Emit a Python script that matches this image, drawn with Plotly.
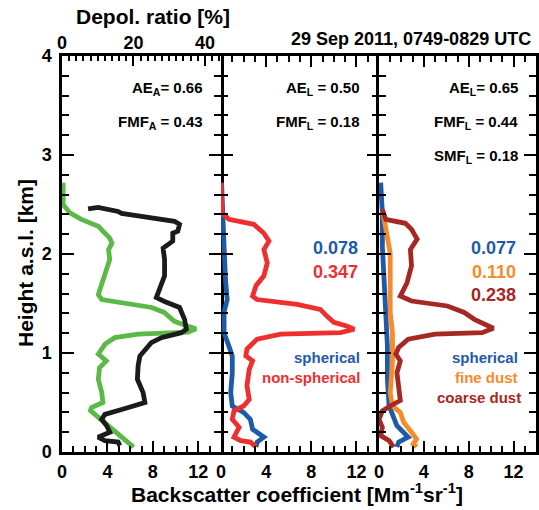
import plotly.graph_objects as go

# ---------------- data ----------------
# Panel 1: total backscatter (green) and particle depolarization ratio (black)
h_bsc_total = [2.72, 2.50, 2.415, 2.35, 2.28, 2.16, 2.11, 2.045, 1.945, 1.83, 1.71, 1.59, 1.54, 1.51,
               1.46, 1.41, 1.32, 1.27, 1.245, 1.21, 1.19, 1.155, 1.09, 0.99, 0.92, 0.85, 0.735, 0.60,
               0.50, 0.45, 0.42, 0.37, 0.265, 0.165, 0.05]
bsc_total = [0.1, 0.1, 0.7, 1.7, 3.2, 4.2, 4.4, 4.1, 4.2, 3.9, 3.5, 3.2, 3.5, 5.2,
             7.9, 9.0, 9.9, 11.1, 11.8, 11.1, 6.7, 4.65, 3.8, 3.2, 3.9, 3.3, 3.2, 3.5,
             3.6, 2.6, 2.5, 3.0, 4.1, 5.2, 6.3]

h_depol = [2.455, 2.47, 2.43, 2.41, 2.40, 2.33, 2.30, 2.23, 2.21, 2.13, 2.06, 1.945, 1.78, 1.64,
           1.56, 1.52, 1.46, 1.34, 1.24, 1.205, 1.155, 1.105, 1.02, 0.97, 0.87, 0.735, 0.60,
           0.50, 0.43, 0.38, 0.33, 0.265, 0.20, 0.15, 0.115, 0.10, 0.065]
depol = [7.3, 10.1, 15.7, 16.7, 18.5, 31.5, 32.9, 32.4, 31.0, 31.0, 28.3, 28.7, 28.7, 27.3,
         26.4, 28.7, 32.9, 34.3, 34.8, 33.4, 27.8, 25.0, 22.7, 21.8, 21.3, 21.1, 22.7,
         23.2, 16.7, 12.0, 11.1, 12.5, 13.4, 10.1, 12.0, 15.7, 16.2]

# Panel 2: spherical (blue) and non-spherical (red) backscatter
h_ns = [2.72, 2.415, 2.35, 2.30, 2.21, 2.13, 2.045, 1.91, 1.78, 1.68, 1.575, 1.54, 1.49, 1.44,
        1.37, 1.31, 1.27, 1.24, 1.205, 1.19, 1.14, 1.04, 0.97, 0.92, 0.835, 0.67, 0.53, 0.465,
        0.415, 0.33, 0.25, 0.15, 0.115, 0.10, 0.05]
bsc_ns = [0.0, 0.1, 0.7, 2.9, 3.8, 4.25, 3.8, 4.1, 3.8, 3.1, 2.8, 3.2, 6.75, 8.8,
          9.4, 10.0, 11.2, 11.8, 10.6, 5.3, 3.2, 2.3, 2.2, 2.8, 2.5, 2.3, 2.5, 2.0,
          1.15, 1.0, 1.6, 1.15, 1.75, 2.6, 3.1]

h_sph2 = [2.72, 2.45, 2.08, 1.74, 1.54, 1.41, 1.205, 1.07, 0.97, 0.80, 0.60, 0.465, 0.40, 0.33,
          0.23, 0.15, 0.10, 0.05]
bsc_sph2 = [0.05, 0.1, 0.27, 0.4, 0.55, 0.27, 0.27, 0.7, 1.0, 1.0, 0.86, 1.0, 2.0, 2.6,
            2.8, 3.8, 3.2, 3.1]

# Panel 3: spherical (blue), fine dust (orange), coarse dust (dark red)
h_cd = [2.45, 2.35, 2.31, 2.25, 2.15, 2.045, 1.88, 1.71, 1.575, 1.525, 1.475, 1.41, 1.34, 1.28,
        1.25, 1.205, 1.19, 1.14, 1.055, 0.99, 0.92, 0.80, 0.67, 0.52, 0.465, 0.415, 0.33, 0.25,
        0.165, 0.115, 0.05]
bsc_cd = [0.3, 0.6, 2.35, 2.9, 3.4, 2.8, 2.9, 2.5, 1.9, 2.9, 6.1, 7.6, 8.5, 9.6,
          10.2, 9.2, 5.0, 2.6, 1.75, 1.5, 1.9, 1.6, 1.75, 1.9, 1.0, 0.3, 0.0, 0.3,
          0.15, 0.9, 1.3]

h_sph3 = [2.72, 2.415, 2.08, 1.74, 1.41, 1.07, 0.735, 0.465, 0.365, 0.265, 0.15, 0.10, 0.05]
bsc_sph3 = [0.15, 0.3, 0.3, 0.4, 0.6, 0.75, 0.75, 0.9, 1.3, 1.6, 2.6, 1.75, 1.6]

h_fd = [2.45, 2.25, 2.01, 1.74, 1.41, 1.205, 0.905, 0.60, 0.465, 0.40, 0.30, 0.20, 0.13, 0.08, 0.05]
bsc_fd = [0.3, 0.6, 1.0, 1.0, 1.0, 1.2, 1.2, 1.0, 1.2, 1.9, 2.2, 2.9, 3.35, 3.05, 3.35]

# axis ticks / labels
height_ticks = [0, 1, 2, 3, 4]
bsc_ticks = [0, 4, 8, 12]
depol_ticks = [0, 20, 40]

# ---------------- style ----------------
W, H = 539, 510
FONT = "Liberation Sans"
GREEN, BLACK = "#5cb947", "#1b1b1b"
BLUE, RED = "#1f5aa8", "#ee2f2f"
ORANGE, DRED = "#f68b2c", "#a52822"

def px(x):
    return x / W

def py(y):
    return 1 - y / H

xdom = [(62, 221), (221, 379), (379, 536)]
ydom = [py(452), py(56)]

fig = go.Figure()
LW = 4.8

fig.add_trace(go.Scatter(x=bsc_total, y=h_bsc_total, mode="lines", line=dict(color=GREEN, width=LW),
                         xaxis="x", yaxis="y"))
fig.add_trace(go.Scatter(x=depol, y=h_depol, mode="lines", line=dict(color=BLACK, width=LW),
                         xaxis="x4", yaxis="y"))
fig.add_trace(go.Scatter(x=bsc_sph2, y=h_sph2, mode="lines", line=dict(color=BLUE, width=LW),
                         xaxis="x2", yaxis="y2"))
fig.add_trace(go.Scatter(x=bsc_ns, y=h_ns, mode="lines", line=dict(color=RED, width=LW),
                         xaxis="x2", yaxis="y2"))
fig.add_trace(go.Scatter(x=bsc_sph3, y=h_sph3, mode="lines", line=dict(color=BLUE, width=LW),
                         xaxis="x3", yaxis="y3"))
fig.add_trace(go.Scatter(x=bsc_fd, y=h_fd, mode="lines", line=dict(color=ORANGE, width=LW),
                         xaxis="x3", yaxis="y3"))
fig.add_trace(go.Scatter(x=bsc_cd, y=h_cd, mode="lines", line=dict(color=DRED, width=LW),
                         xaxis="x3", yaxis="y3"))

tickfont = dict(family=FONT, size=18, color="black", weight="bold")

def xax(i, mirror):
    return dict(domain=[px(xdom[i][0]), px(xdom[i][1])], range=[0, 14], tickvals=bsc_ticks,
                ticks="inside", ticklen=11, tickwidth=2, tickcolor="black",
                minor=dict(dtick=1, ticks="inside", ticklen=6, tickwidth=2, tickcolor="black"),
                showline=True, linewidth=2.5, linecolor="black", mirror=mirror,
                showgrid=False, zeroline=False, tickfont=tickfont, automargin=False,
                anchor="y" if i == 0 else f"y{i+1}", ticklabelstandoff=2)

def yax(i):
    return dict(domain=ydom, range=[0, 4], tickvals=height_ticks,
                ticks="inside", ticklen=12, tickwidth=2, tickcolor="black",
                minor=dict(dtick=0.2, ticks="inside", ticklen=7, tickwidth=2, tickcolor="black"),
                showline=(i != 1), linewidth=2.5, linecolor="black", mirror="ticks",
                showgrid=False, zeroline=False, tickfont=tickfont, showticklabels=(i == 0),
                automargin=False,
                anchor="x" if i == 0 else f"x{i+1}", ticklabelstandoff=4)

fig.update_layout(
    width=W, height=H, margin=dict(l=0, r=0, t=0, b=0, pad=0, autoexpand=False),
    paper_bgcolor="white", plot_bgcolor="white", showlegend=False,
    xaxis=xax(0, True), xaxis2=xax(1, "ticks"), xaxis3=xax(2, "ticks"),
    yaxis=yax(0), yaxis2=yax(1), yaxis3=yax(2),
    xaxis4=dict(overlaying="x", side="top", anchor="y", range=[0, 44.5], tickvals=depol_ticks,
                ticks="inside", ticklen=10, tickwidth=2, tickcolor="black",
                minor=dict(dtick=2, ticks="inside", ticklen=5, tickwidth=2, tickcolor="black"),
                showline=False, showgrid=False, zeroline=False, tickfont=tickfont,
                automargin=False, ticklabelstandoff=2),
)

def ann(text, x, y, size, color="black", xanchor="right", angle=0):
    fig.add_annotation(text=text, x=px(x), y=py(y), xref="paper", yref="paper",
                       xanchor=xanchor, yanchor="middle", showarrow=False, textangle=angle,
                       font=dict(family=FONT, size=size, color=color, weight="bold"))

ann("Depol. ratio [%]", 153, 17, 21, xanchor="center")
ann("29 Sep 2011, 0749-0829 UTC", 533, 39, 18)
ann("Height a.s.l. [km]", 25, 263, 21, xanchor="center", angle=-90)
ann("Backscatter coefficient [Mm<sup>-1</sup>sr<sup>-1</sup>]", 297, 493, 21, xanchor="center")

ann("AE<sub>A</sub>= 0.66", 205, 88, 15)
ann("FMF<sub>A</sub> = 0.43", 205, 122, 15)
ann("AE<sub>L</sub> = 0.50", 362, 88, 15)
ann("FMF<sub>L</sub> = 0.18", 362, 122, 15)
ann("AE<sub>L</sub>= 0.65", 520, 88, 15)
ann("FMF<sub>L</sub> = 0.44", 520, 122, 15)
ann("SMF<sub>L</sub> = 0.18", 520, 156, 15)

ann("0.078", 360, 248, 18, BLUE)
ann("0.347", 360, 272, 18, RED)
ann("0.077", 518, 248, 18, BLUE)
ann("0.110", 518, 272, 18, ORANGE)
ann("0.238", 518, 295, 18, DRED)

ann("spherical", 362, 357, 15, BLUE)
ann("non-spherical", 362, 377, 15, RED)
ann("spherical", 520, 357, 15, BLUE)
ann("fine dust", 520, 377, 15, ORANGE)
ann("coarse dust", 523, 397, 15, DRED)

# remove the browser's default page margin so the figure sits at the window origin
fig.write_html("out.html", config={"displayModeBar": False},
               post_script="document.body.style.margin='0px';document.body.style.overflow='hidden';")
